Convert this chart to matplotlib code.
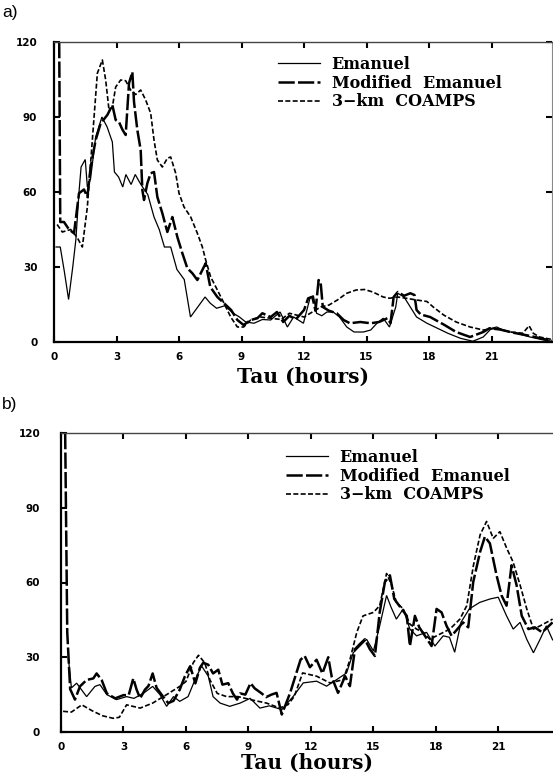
import matplotlib
matplotlib.use("Agg")
import matplotlib.pyplot as plt

# ---------------- data: panel a ----------------
a_em_t = [0.1,0.3,0.5,0.7,0.9,1.05,1.2,1.3,1.5,1.6,1.75,2.0,2.3,2.55,2.8,2.9,3.1,3.3,3.45,3.7,3.9,4.1,4.25,4.5,4.8,5.05,5.3,5.6,5.9,6.25,6.55,6.9,7.25,7.5,7.8,8.2,8.6,8.9,9.2,9.6,10.0,10.4,10.85,11.2,11.5,11.97,12.3,12.45,12.6,12.85,13.1,13.4,13.7,14.05,14.4,14.85,15.2,15.5,15.8,16.1,16.4,16.5,16.8,17.1,17.4,17.9,18.4,18.9,19.5,20.1,20.6,21.0,21.25,21.6,22.2,22.85,23.5,23.9]
a_em_v = [38,38,28,17,30,41,60,70,73,62,65,82,90,86,80,68,66,62,67,63,67,64,62,59,50,45,38,38,29,25,10,14,18,15.5,13.5,14.5,11.5,10,8,7.5,9,8.8,12,6,10,7.5,18,18.5,11.5,10.5,12,12,10,6,4,4,4.8,7.5,9.5,6,14,19.5,18,14,10,7.5,5.5,3.5,1.5,0.3,2,5.5,6,4.5,3.5,2,0.8,0.3]

a_mo_t = [0.25,0.3,0.48,0.72,0.96,1.2,1.44,1.6,1.76,2.0,2.24,2.56,2.8,2.96,3.12,3.28,3.44,3.6,3.76,3.84,4.0,4.16,4.24,4.32,4.48,4.64,4.8,4.96,5.2,5.44,5.68,5.92,6.16,6.4,6.64,6.88,7.12,7.28,7.5,7.84,8.16,8.5,8.8,9.1,9.44,9.76,10.0,10.4,10.7,11.0,11.3,11.6,12.0,12.2,12.4,12.55,12.7,12.8,12.9,13.2,13.57,13.9,14.2,14.7,15.2,15.6,16.0,16.15,16.3,16.5,16.8,17.1,17.3,17.4,17.6,18.05,18.7,19.3,19.97,20.6,20.9,21.4,22.0,22.8,23.5,23.9]
a_mo_v = [120,48,48,45,43.5,59.5,61,58,70,80.8,87.5,90.8,94.8,88.8,88,85,82.8,103.5,108,96,84.8,76.8,60.8,56.8,63.5,67.5,68,58,51.5,44,50,42,35.5,29.5,27.5,24.8,28.8,31.5,22,18,15.5,12.8,8.8,6.8,8.8,9.5,11.5,10,12,8,10.5,9,12.8,17.5,18,12.5,24.8,23.5,14,12.5,11.5,8.8,7.5,8,7.5,8,9.5,7.5,18,20,18.5,19.5,18.8,12.8,11,10,7,4,2,4,5.5,5,3.8,2.5,1.2,0.5]

a_co_t = [0.15,0.4,0.8,1.1,1.36,1.6,1.84,2.08,2.32,2.48,2.64,2.8,2.96,3.2,3.44,3.68,3.92,4.16,4.4,4.64,4.8,4.96,5.2,5.44,5.6,5.84,6.0,6.24,6.56,6.88,7.12,7.28,7.52,7.84,8.16,8.48,8.8,9.1,9.44,9.9,10.4,10.9,11.3,12.0,12.5,12.8,13.2,13.6,14.05,14.5,14.9,15.3,15.8,16.1,16.5,16.9,17.4,17.9,18.2,18.7,19.3,19.97,20.6,21.25,21.9,22.5,22.8,23.0,23.3,23.9]
a_co_v = [47,44,45,42,38,54,80.8,107.5,112.8,104.8,92.8,94,102,104.8,104.5,100.8,99,100.8,96.8,91.5,80.8,72.8,70,73.5,74,67.5,59.5,54,50,43.5,38,32.8,26,20.8,15.5,10,6,6,8.8,10,9.5,9,11.5,10,12.5,14,14.8,16.8,19.5,20.8,21,20,18,17.5,18,17.5,16.8,16.2,14,10.8,8,6,4.8,5.5,4,3.5,6.5,3.5,2,1]

# ---------------- data: panel b ----------------
b_em_t = [0.35,0.5,0.75,1.23,1.63,1.87,2.2,2.67,3.15,3.5,3.95,4.4,4.75,5.07,5.4,5.7,6.1,6.43,6.75,7.07,7.3,7.64,8.1,8.6,9.08,9.55,10.0,10.6,11.15,11.63,12.27,12.75,13.23,13.71,14.03,14.35,14.67,15.0,15.3,15.63,15.85,16.1,16.43,16.75,17.07,17.55,17.95,18.35,18.65,18.9,19.2,19.6,20.1,20.6,20.99,21.39,21.71,22.04,22.36,22.68,23.0,23.3,23.6]
b_em_v = [30,17.7,19.6,14.2,18.3,19,15,13,14.2,13.5,15.5,18.3,15,10.3,14.2,12.3,14.2,20.9,26.5,22.4,14.2,11.6,10.3,11.6,13.5,9.6,10.5,9,14.3,19.7,20.4,18.4,21,23.7,31.8,34.5,37.2,32.5,42.6,54.8,50,45.3,49.4,41.3,38.6,40,34.5,38.6,38,32,44,49.4,52,53.4,54.1,46.6,41.3,44,37.2,31.8,37.2,42.6,37]

b_mo_t = [0.2,0.3,0.44,0.67,0.91,1.23,1.55,1.71,1.95,2.2,2.6,3.0,3.25,3.47,3.63,3.8,4.03,4.2,4.4,4.59,4.9,5.15,5.4,5.7,5.95,6.2,6.45,6.67,6.83,7.07,7.3,7.55,7.75,8.03,8.25,8.45,8.6,8.85,9.1,9.3,9.63,9.85,10.1,10.35,10.6,11.0,11.5,11.7,11.95,12.27,12.55,12.83,13.0,13.3,13.64,13.87,14.11,14.35,14.59,14.83,15.07,15.3,15.55,15.79,16.0,16.35,16.6,16.75,16.99,17.2,17.47,17.79,18.03,18.27,18.51,18.75,19.0,19.3,19.55,19.79,20.12,20.35,20.59,20.91,21.15,21.39,21.63,21.87,22.12,22.44,22.75,23.1,23.6]
b_mo_v = [120,40,17.2,13,18.3,20.9,21.5,23.5,20.9,15.5,13.5,14.8,14.8,21.5,17,13.5,17,18.5,23.5,17.7,14.2,11.6,12.5,17,22.4,26.4,19.5,25.8,27.8,27,23.5,25,19,19.6,15.5,13,15.5,15,19.6,17.5,15.5,14,15,15.7,7,15.7,29,30.5,26,29,23.5,30,22,15.7,22.4,18.4,33.2,35.3,37.2,33.2,30.5,48,60.2,62.9,53.4,49.4,46.6,34.5,46.6,42,38.6,34.5,49.4,48,42.6,38.6,41,44,42,60.2,72.3,78.4,75.7,62.9,54.8,50.7,66.9,59,46.6,41.3,42,40,44]

b_co_t = [0.1,0.5,1.0,1.5,2.0,2.5,2.8,3.15,3.8,4.4,5.07,5.7,6.0,6.35,6.6,6.9,7.15,7.5,7.95,8.5,9.2,9.87,10.5,10.9,11.2,11.6,12.27,12.91,13.55,13.87,14.2,14.5,15.0,15.3,15.63,15.87,16.1,16.43,16.75,17.07,17.39,17.71,18.03,18.67,19.15,19.48,19.8,20.12,20.43,20.75,21.07,21.4,21.7,22.04,22.36,22.68,23.0,23.6]
b_co_v = [8.3,8,10.9,8.5,6.5,5.5,5.9,10.9,9.6,11.6,15,18.3,20.3,27.8,30.8,27.8,20.9,15.5,14.2,14.2,12.8,11.6,9.6,11,14.3,23.7,22.4,19.7,21,29,40,46.6,48,50.7,63.6,59,52,49.4,43.3,41.3,40,37.2,38.6,41.3,45.3,50.7,66.9,79.1,84.5,77.7,80.4,73.7,68.3,59,49.4,41.3,42.6,45.3]

labels = ["Emanuel", "Modified  Emanuel", "3\u2212km  COAMPS"]
xticks = [0, 3, 6, 9, 12, 15, 18, 21]
yticks = [0, 30, 60, 90, 120]
xlabel = "Tau (hours)"

W, H = 553, 773
fig = plt.figure(figsize=(W / 100, H / 100), dpi=100)

tickfont = dict(family="DejaVu Sans", weight="bold", size=7.5)
serif_b = dict(family="DejaVu Serif", weight="bold")


def panel(rect, xmax, em, mo, co, right_spine, leg_anchor, ypad, lpad):
    ax = fig.add_axes(rect)
    l1, = ax.plot(em[0], em[1], color="black", lw=0.9, solid_joinstyle="miter")
    l2, = ax.plot(mo[0], mo[1], color="black", lw=1.8, linestyle=(0, (6.5, 1.3)))
    l3, = ax.plot(co[0], co[1], color="black", lw=1.2, linestyle=(0, (3.0, 1.4)))
    ax.set_xlim(0, xmax)
    ax.set_ylim(0, 120)
    ax.set_xticks(xticks)
    ax.set_yticks(yticks)
    ax.set_xticklabels([str(t) for t in xticks], **tickfont)
    ax.set_yticklabels([str(t) for t in yticks], **tickfont)
    ax.tick_params(axis="x", direction="in", length=4, width=1.5, pad=7,
                   top=True, bottom=True)
    ax.tick_params(axis="y", direction="in", length=4, width=1.5, pad=ypad,
                   left=True, right=right_spine)
    for s in ("left", "bottom"):
        ax.spines[s].set_linewidth(1.6)
    ax.spines["top"].set_linewidth(1.0)
    ax.spines["top"].set_color("#444444")
    if right_spine:
        ax.spines["right"].set_linewidth(0.8)
        ax.spines["right"].set_color("#888888")
    else:
        ax.spines["right"].set_visible(False)
    ax.set_xlabel(xlabel, fontsize=14.5, labelpad=lpad, **serif_b)
    ax.legend([l1, l2, l3], labels, loc="upper left",
              bbox_to_anchor=leg_anchor, bbox_transform=fig.transFigure,
              frameon=False, borderpad=0, borderaxespad=0,
              handlelength=2.6, handletextpad=0.75, labelspacing=0.1,
              prop=dict(family="DejaVu Serif", weight="bold", size=11.5))
    return ax


panel([54 / W, 1 - 342 / H, 498 / W, 300 / H], 23.9,
      (a_em_t, a_em_v), (a_mo_t, a_mo_v), (a_co_t, a_co_v),
      True, (278 / W, 1 - 56 / H), 12, 4)
panel([61 / W, 1 - 732 / H, 492 / W, 299 / H], 23.62,
      (b_em_t, b_em_v), (b_mo_t, b_mo_v), (b_co_t, b_co_v),
      False, (286 / W, 1 - 449 / H), 15, 0.5)

fig.text(2 / W, 1 - 12 / H, "a)", family="Liberation Sans", size=12.5, va="center", ha="left")
fig.text(2 / W, 1 - 405 / H, "b)", family="Liberation Sans", size=12.5, va="center", ha="left")

fig.savefig("out.png", dpi=100)
